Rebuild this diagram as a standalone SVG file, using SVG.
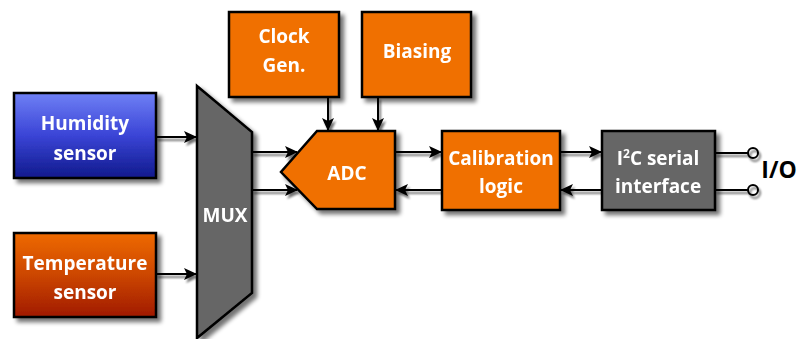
<svg xmlns="http://www.w3.org/2000/svg" width="802" height="339" viewBox="0 0 802 339">
<defs>
<filter id="sh" x="-20%" y="-20%" width="150%" height="150%">
<feGaussianBlur in="SourceAlpha" stdDeviation="2"/>
<feOffset dx="4" dy="4" result="b"/>
<feComponentTransfer><feFuncA type="linear" slope="0.55"/></feComponentTransfer>
<feMerge><feMergeNode/><feMergeNode in="SourceGraphic"/></feMerge>
</filter>
<filter id="lsh" x="-10%" y="-100%" width="130%" height="400%">
<feGaussianBlur in="SourceAlpha" stdDeviation="0.8"/>
<feOffset dx="2" dy="2.5" result="b"/>
<feComponentTransfer><feFuncA type="linear" slope="0.55"/></feComponentTransfer>
<feMerge><feMergeNode/><feMergeNode in="SourceGraphic"/></feMerge>
</filter>
<linearGradient id="gBlue" x1="0" y1="0" x2="0" y2="1">
<stop offset="0" stop-color="#6f80f5"/>
<stop offset="0.5" stop-color="#3a44d6"/>
<stop offset="1" stop-color="#101a8c"/>
</linearGradient>
<linearGradient id="gRed" x1="0" y1="0" x2="0" y2="1">
<stop offset="0" stop-color="#ee6a06"/>
<stop offset="0.5" stop-color="#cc4606"/>
<stop offset="1" stop-color="#a01a00"/>
</linearGradient>
<marker id="ah" viewBox="0 0 13 12" refX="12" refY="6" markerWidth="13" markerHeight="12" markerUnits="userSpaceOnUse" orient="auto">
<path d="M0,0 L13,6 L0,12 L3,6 Z" fill="#000"/>
</marker>
</defs>
<style>
.box{stroke:#000;stroke-width:2.5}
.or{fill:#f07000}
.gr{fill:#666}
.t{font-family:"Open Sans","DejaVu Sans",sans-serif;font-weight:bold;font-size:19px;fill:#fff;text-anchor:middle}
.c{stroke:#000;stroke-width:2;fill:none}
</style>
<g id="connectors" filter="url(#lsh)">
<line class="c" x1="156" y1="137" x2="196" y2="137" marker-end="url(#ah)"/>
<line class="c" x1="156" y1="274" x2="196" y2="274" marker-end="url(#ah)"/>
<line class="c" x1="252" y1="152" x2="297" y2="152" marker-end="url(#ah)"/>
<line class="c" x1="252" y1="190" x2="297" y2="190" marker-end="url(#ah)"/>
<line class="c" x1="328" y1="97" x2="328" y2="130" marker-end="url(#ah)"/>
<line class="c" x1="378" y1="97" x2="378" y2="130" marker-end="url(#ah)"/>
<line class="c" x1="395" y1="152" x2="441" y2="152" marker-end="url(#ah)"/>
<line class="c" x1="442" y1="190" x2="396" y2="190" marker-end="url(#ah)"/>
<line class="c" x1="560" y1="152" x2="601" y2="152" marker-end="url(#ah)"/>
<line class="c" x1="602" y1="190" x2="561" y2="190" marker-end="url(#ah)"/>
<line class="c" x1="715" y1="153" x2="748" y2="153"/>
<line class="c" x1="715" y1="190" x2="748" y2="190"/>
<circle cx="753" cy="153" r="5" fill="none" stroke="#000" stroke-width="2"/>
<circle cx="753" cy="190" r="5" fill="none" stroke="#000" stroke-width="2"/>
</g>
<g id="humidity" filter="url(#sh)">
<rect class="box" x="14" y="93" width="142" height="85" fill="url(#gBlue)"/>
<text class="t" x="85" y="130">Humidity</text>
<text class="t" x="85" y="160">sensor</text>
</g>
<g id="temperature" filter="url(#sh)">
<rect class="box" x="14" y="233" width="142" height="84" fill="url(#gRed)"/>
<text class="t" x="85" y="270">Temperature</text>
<text class="t" x="85" y="299">sensor</text>
</g>
<g id="mux" filter="url(#sh)">
<path class="box gr" d="M197,86 L252,132 L252,293 L197,338 Z"/>
<text class="t" x="225" y="222">MUX</text>
</g>
<g id="clock" filter="url(#sh)">
<rect class="box or" x="229" y="12" width="110" height="85"/>
<text class="t" x="284" y="43">Clock</text>
<text class="t" x="284" y="72">Gen.</text>
</g>
<g id="biasing" filter="url(#sh)">
<rect class="box or" x="362" y="12" width="109" height="85"/>
<text class="t" x="417" y="58">Biasing</text>
</g>
<g id="adc" filter="url(#sh)">
<path class="box or" d="M317,131 L395,131 L395,209 L317,209 L281,172 Z"/>
<text class="t" x="347" y="180">ADC</text>
</g>
<g id="calibration" filter="url(#sh)">
<rect class="box or" x="442" y="131" width="118" height="79"/>
<text class="t" x="501" y="165">Calibration</text>
<text class="t" x="501" y="193">logic</text>
</g>
<g id="i2c" filter="url(#sh)">
<rect class="box gr" x="602" y="131" width="113" height="79"/>
<text class="t" x="658" y="165">I<tspan font-size="12" dy="-7">2</tspan><tspan dy="7">C serial</tspan></text>
<text class="t" x="658" y="193">interface</text>
</g>
<g id="io">
<text x="779" y="178" style="font-family:'Open Sans','DejaVu Sans',sans-serif;font-weight:bold;font-size:23px;fill:#000;text-anchor:middle">I/O</text>
</g>
</svg>
